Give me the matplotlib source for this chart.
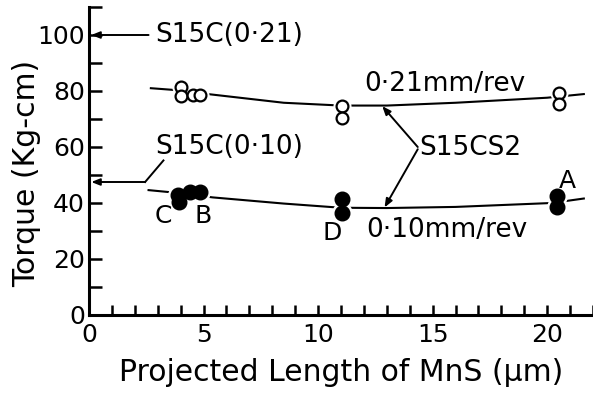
import matplotlib
matplotlib.use("Agg")
import matplotlib.pyplot as plt
from matplotlib.ticker import MultipleLocator

plt.rcParams['font.family'] = ['DejaVu Sans']

# ---- data ----
# feed 0.21 mm/rev (open circles)
x021 = [4.0, 4.0, 4.55, 4.86, 11.05, 11.05, 20.5, 20.5]
y021 = [81.4, 78.2, 78.4, 78.4, 74.5, 70.3, 79.3, 75.3]
# hand-drawn trend curve through 0.21 points
cx021 = [2.7, 4.0, 5.3, 8.5, 11.0, 13.0, 16.0, 20.0, 21.6]
cy021 = [81.0, 80.2, 78.8, 75.8, 74.8, 74.8, 75.8, 77.6, 78.9]

# feed 0.10 mm/rev (filled circles)
x010 = [3.9, 3.95, 4.4, 4.86, 11.05, 11.05, 20.45, 20.45]
y010 = [43.0, 40.2, 44.0, 44.0, 41.3, 36.3, 42.5, 38.6]
cx010 = [2.6, 4.0, 5.4, 8.5, 11.0, 13.0, 16.0, 20.2, 21.6]
cy010 = [44.6, 43.5, 42.0, 39.8, 38.3, 38.2, 38.6, 40.0, 41.6]

# reference values for plain S15C
s15c_021 = 100
s15c_010 = 47.5

xticks = [0, 5, 10, 15, 20]
yticks = [0, 20, 40, 60, 80, 100]

fig = plt.figure(figsize=(5.93, 3.94), dpi=100)
ax = fig.add_axes([89/593, 79/394, (593-89)/593, (315-7)/394])
ax.set_xlim(0, 22)
ax.set_ylim(0, 110)

for s in ['top', 'right']:
    ax.spines[s].set_visible(False)
for s in ['left', 'bottom']:
    ax.spines[s].set_linewidth(2.2)

lw = 1.5
fs_tick = 18
fs_lab = 21.5
fs_ann = 19

# curves
ax.plot(cx021, cy021, color='black', lw=lw, zorder=2)
ax.plot(cx010, cy010, color='black', lw=lw, zorder=2)
# white halos to break curves near markers
ax.plot(x021, y021, 'o', ms=12, color='white', zorder=3)
ax.plot(x010, y010, 'o', ms=14, color='white', zorder=3)
ax.plot(x021, y021, 'o', ms=8.5, mfc='white', mec='black', mew=1.6, zorder=4)
ax.plot(x010, y010, 'o', ms=10.5, color='black', zorder=4)

# ticks
ax.set_xticks(xticks)
ax.set_yticks(yticks)
ax.xaxis.set_minor_locator(MultipleLocator(1))
ax.yaxis.set_minor_locator(MultipleLocator(10))
ax.tick_params(axis='both', which='both', direction='in', width=1.8, colors='black')
ax.tick_params(axis='y', which='both', length=9, pad=3, labelsize=fs_tick)
ax.tick_params(axis='x', which='both', length=7, pad=6, labelsize=fs_tick)

ax.set_xlabel('Projected Length of MnS (μm)', fontsize=fs_lab, labelpad=8)
ax.set_ylabel('Torque (Kg-cm)', fontsize=fs_lab)
ax.yaxis.set_label_coords(-0.095, 0.46)

arrow = dict(arrowstyle='-|>,head_length=0.5,head_width=0.2', color='black', lw=1.4,
             shrinkA=0, shrinkB=0)

# S15C(0.21)
ax.text(2.9, s15c_021, 'S15C(0·21)', fontsize=fs_ann, va='center', ha='left')
ax.annotate('', xy=(0.1, s15c_021), xytext=(2.6, s15c_021), arrowprops=arrow)

# S15C(0.10)
ax.text(2.9, 60, 'S15C(0·10)', fontsize=fs_ann, va='center', ha='left')
ax.plot([3.25, 2.45], [55.2, s15c_010], color='black', lw=1.4)
ax.annotate('', xy=(0.1, s15c_010), xytext=(2.45, s15c_010), arrowprops=arrow)

# feed labels
ax.text(12.0, 82.5, '0·21mm/rev', fontsize=fs_ann, va='center', ha='left')
ax.text(12.1, 30.4, '0·10mm/rev', fontsize=fs_ann, va='center', ha='left')

# S15CS2
ax.text(14.4, 59.6, 'S15CS2', fontsize=fs_ann, va='center', ha='left')
ax.annotate('', xy=(12.8, 74.6), xytext=(14.35, 60.0), arrowprops=arrow)
ax.annotate('', xy=(12.9, 38.4), xytext=(14.35, 59.2), arrowprops=arrow)

# point labels
for t, x, y in [('A', 20.9, 48.0), ('C', 3.25, 35.2), ('B', 5.0, 35.2), ('D', 10.6, 29.3)]:
    ax.text(x, y, t, fontsize=fs_tick, va='center', ha='center')

fig.savefig('out.png', dpi=100)
